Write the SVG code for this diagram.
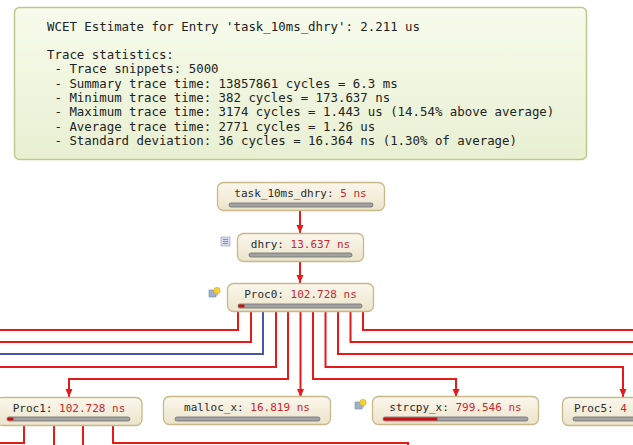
<svg xmlns="http://www.w3.org/2000/svg" width="633" height="445" viewBox="0 0 633 445">
<style>
.info{font-family:"DejaVu Sans Mono","Liberation Mono",monospace;font-size:12.4px;fill:#222;white-space:pre}
.nt{font-family:"DejaVu Sans Mono","Liberation Mono",monospace;font-size:11px;fill:#2a2a2a;text-anchor:middle}
.v{fill:#c8282d}
.box{fill:url(#ng);stroke:#c8b88a;stroke-width:1.3}
.bar{fill:#a3a3a3;stroke:#6f6f6f;stroke-width:0.8}
.bred{fill:#c81010}
.r{fill:none;stroke:#e51a1a;stroke-width:2}
.b{fill:none;stroke:#4a55a6;stroke-width:2}
</style>
<defs>
<linearGradient id="ng" x1="0" y1="0" x2="0" y2="1">
<stop offset="0" stop-color="#faf7ec"/>
<stop offset="1" stop-color="#ece4cb"/>
</linearGradient>
<linearGradient id="ig" x1="0" y1="0" x2="0" y2="1">
<stop offset="0" stop-color="#f8fbec"/>
<stop offset="1" stop-color="#e8f0d2"/>
</linearGradient>
<marker id="ar" markerUnits="userSpaceOnUse" markerWidth="8" markerHeight="8" refX="8" refY="4" orient="auto">
<path d="M0,0.5 L8,4 L0,7.5 z" fill="#e51a1a"/>
</marker>
<g id="bulb">
<rect x="0" y="3" width="7" height="7" fill="#9fb0cc" stroke="#7a8aa8" stroke-width="0.6"/>
<circle cx="8" cy="3.5" r="3.2" fill="#f4d03a" stroke="#c9a620" stroke-width="0.5"/>
<rect x="6.8" y="6.5" width="2.4" height="2" fill="#b8b8b8"/>
</g>
</defs>

<g id="info">
<rect x="14.5" y="7.5" width="572" height="152" rx="5" fill="url(#ig)" stroke="#b8cb8d" stroke-width="1.5"/>
<text class="info" x="47" y="30.5">WCET Estimate for Entry 'task_10ms_dhry': 2.211 us</text>
<text class="info" x="47" y="59">Trace statistics:</text>
<text class="info" x="47" y="73.3"> - Trace snippets: 5000</text>
<text class="info" x="47" y="87.6"> - Summary trace time: 13857861 cycles = 6.3 ms</text>
<text class="info" x="47" y="101.9"> - Minimum trace time: 382 cycles = 173.637 ns</text>
<text class="info" x="47" y="116.2"> - Maximum trace time: 3174 cycles = 1.443 us (14.54% above average)</text>
<text class="info" x="47" y="130.5"> - Average trace time: 2771 cycles = 1.26 us</text>
<text class="info" x="47" y="144.8"> - Standard deviation: 36 cycles = 16.364 ns (1.30% of average)</text>
</g>

<g id="connectors">
<path class="r" d="M300,210 V233" marker-end="url(#ar)"/>
<path class="r" d="M300,261 V283" marker-end="url(#ar)"/>
<path class="r" d="M238,312 V330 H0"/>
<path class="r" d="M251,312 V342 H0"/>
<path class="b" d="M263,312 V354 H0"/>
<path class="r" d="M276,312 V367 H0"/>
<path class="r" d="M288,312 V379 H69 V397" marker-end="url(#ar)"/>
<path class="r" d="M300.5,312 V397" marker-end="url(#ar)"/>
<path class="r" d="M313,312 V379 H456 V397" marker-end="url(#ar)"/>
<path class="r" d="M325.5,312 V367 H623 V397" marker-end="url(#ar)"/>
<path class="r" d="M338,312 V354 H633"/>
<path class="r" d="M350.5,312 V342 H633"/>
<path class="r" d="M363,312 V330 H633"/>
<path class="r" d="M24,425 V443 H0"/>
<path class="r" d="M54,425 V445"/>
<path class="r" d="M83,425 V445"/>
<path class="r" d="M113,425 V443 H408 V445"/>
</g>

<g id="n_task">
<rect class="box" x="217.5" y="182.5" width="167" height="28" rx="6"/>
<text class="nt" x="300.5" y="196.5">task_10ms_dhry: <tspan class="v">5 ns</tspan></text>
<rect class="bar" x="229" y="203" width="144" height="4" rx="2"/>
</g>

<g id="n_dhry">
<rect class="box" x="237.5" y="233.5" width="126" height="28" rx="6"/>
<text class="nt" x="300.5" y="247.5">dhry: <tspan class="v">13.637 ns</tspan></text>
<rect class="bar" x="249" y="253" width="103" height="4" rx="2"/>
<g>
<rect x="221" y="237" width="9" height="9" fill="#d4d9ec" stroke="#9aa3c4" stroke-width="0.6"/>
<path d="M223,239.5 H228 M223,241.5 H228 M223,243.5 H228" stroke="#7480aa" stroke-width="0.8"/>
</g>
</g>

<g id="n_proc0">
<rect class="box" x="227.5" y="283.5" width="146" height="28" rx="6"/>
<text class="nt" x="300.5" y="298">Proc0: <tspan class="v">102.728 ns</tspan></text>
<rect class="bar" x="238" y="304" width="124" height="4" rx="2"/>
<rect class="bred" x="238.5" y="304.5" width="6" height="3" rx="1"/>
<use href="#bulb" x="209" y="287"/>
</g>

<g id="n_proc1">
<rect class="box" x="-4" y="397.5" width="146" height="28" rx="6"/>
<text class="nt" x="69" y="412">Proc1: <tspan class="v">102.728 ns</tspan></text>
<rect class="bar" x="7" y="417" width="123" height="4" rx="2"/>
<rect class="bred" x="7.5" y="417.5" width="6" height="3" rx="1"/>
</g>

<g id="n_malloc">
<rect class="box" x="163.5" y="396.5" width="167" height="28" rx="6"/>
<text class="nt" x="247" y="411">malloc_x: <tspan class="v">16.819 ns</tspan></text>
<rect class="bar" x="175" y="417" width="145" height="4" rx="2"/>
</g>

<g id="n_strcpy">
<rect class="box" x="372.5" y="396.5" width="166" height="28" rx="6"/>
<text class="nt" x="455.5" y="411">strcpy_x: <tspan class="v">799.546 ns</tspan></text>
<rect class="bar" x="383" y="417" width="145" height="4" rx="2"/>
<rect class="bred" x="383.5" y="417.5" width="54" height="3" rx="1"/>
<use href="#bulb" x="355" y="399"/>
</g>

<g id="n_proc5">
<rect class="box" x="562.5" y="397.5" width="146" height="28" rx="6"/>
<text class="nt" x="574" y="412" style="text-anchor:start">Proc5: <tspan class="v">4</tspan></text>
<rect class="bar" x="573" y="417" width="124" height="4" rx="2"/>
</g>
</svg>
